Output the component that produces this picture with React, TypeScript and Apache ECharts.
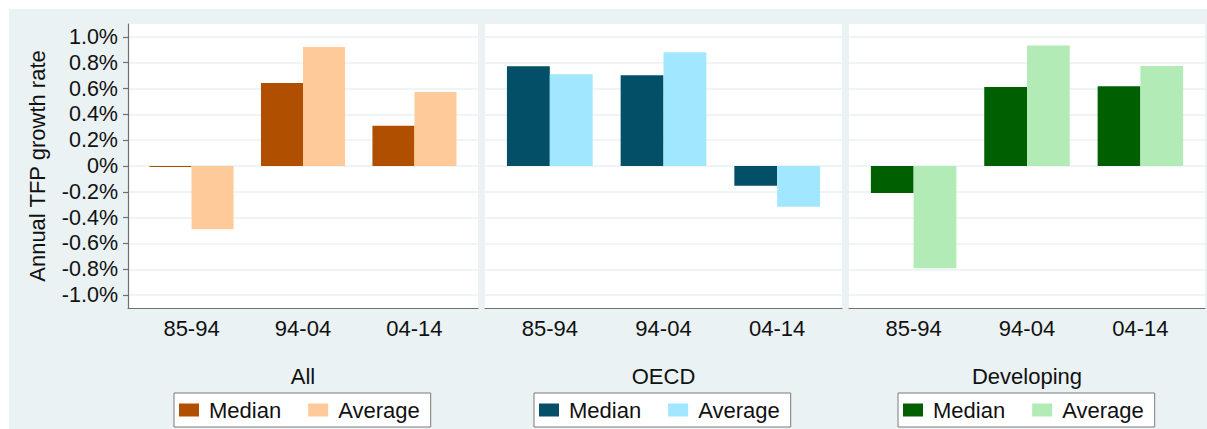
import React, { useEffect, useRef } from "react";
import * as echarts from "echarts";

const CATEGORIES = ["85-94", "94-04", "04-14"];
const PANELS = ["All", "OECD", "Developing"];
const ALL_MEDIAN = [-0.008, 0.643, 0.312];
const ALL_AVERAGE = [-0.49, 0.922, 0.574];
const OECD_MEDIAN = [0.773, 0.703, -0.153];
const OECD_AVERAGE = [0.711, 0.881, -0.315];
const DEV_MEDIAN = [-0.209, 0.612, 0.618];
const DEV_AVERAGE = [-0.793, 0.933, 0.775];
const Y_TICKS = [-1.0, -0.8, -0.6, -0.4, -0.2, 0, 0.2, 0.4, 0.6, 0.8, 1.0];
const Y_NAME = "Annual TFP growth rate";

const FONT = "'Liberation Sans', Arial, sans-serif";
const BG = "#EAF2F3";
const AXIS = "#707070";

const MEDIANS = [ALL_MEDIAN, OECD_MEDIAN, DEV_MEDIAN];
const AVERAGES = [ALL_AVERAGE, OECD_AVERAGE, DEV_AVERAGE];
const MEDIAN_COLORS = ["#B04F00", "#034F67", "#005F00"];
const AVERAGE_COLORS = ["#FFCA99", "#A0E7FF", "#B2EBB6"];

const GRID_LEFT = [128, 485, 849];
const GRID_WIDTH = [350, 357, 356];
const LEGEND_LEFT = [174, 534, 898];

export default function App() {
  const ref = useRef<HTMLDivElement>(null);
  useEffect(() => {
    document.body.style.margin = "0";
    const chart = echarts.init(ref.current!, null, { renderer: "svg" });
    const grids: any[] = [];
    const xAxes: any[] = [];
    const yAxes: any[] = [];
    const series: any[] = [];
    const legends: any[] = [];
    PANELS.forEach((panel, p) => {
      grids.push({
        left: GRID_LEFT[p],
        width: GRID_WIDTH[p],
        top: 24,
        height: 284,
        show: true,
        backgroundColor: "#ffffff",
        borderWidth: 0,
      });
      xAxes.push({
        type: "value",
        gridIndex: p,
        min: -0.57,
        max: 2.57,
        name: panel,
        nameLocation: "middle",
        nameGap: 57,
        nameTextStyle: { fontSize: 22, fontFamily: FONT, color: "#111" },
        axisLine: { show: true, onZero: false, lineStyle: { color: AXIS, width: 1.2 } },
        axisTick: { show: false, customValues: [0, 1, 2] },
        splitLine: { show: false },
        axisLabel: {
          customValues: [0, 1, 2],
          formatter: (v: number) => CATEGORIES[Math.round(v)] ?? "",
          fontSize: 22,
          fontFamily: FONT,
          color: "#111",
          margin: 9,
        },
      });
      yAxes.push({
        type: "value",
        gridIndex: p,
        min: -1.1,
        max: 1.1,
        name: p === 0 ? Y_NAME : "",
        nameLocation: "middle",
        nameGap: 80,
        nameTextStyle: { fontSize: 22, fontFamily: FONT, color: "#111" },
        axisLine: { show: p === 0, onZero: false, lineStyle: { color: AXIS, width: 1.2 } },
        axisTick: {
          show: p === 0,
          customValues: Y_TICKS,
          length: 5,
          lineStyle: { color: AXIS, width: 1.2 },
        },
        splitLine: { show: true, lineStyle: { color: BG, width: 1.5 } },
        axisLabel: {
          show: p === 0,
          customValues: Y_TICKS,
          formatter: (v: number) => (Math.abs(v) < 1e-9 ? "0%" : v.toFixed(1) + "%"),
          fontSize: 21.5,
          fontFamily: FONT,
          color: "#111",
          margin: 10,
        },
      });
      series.push({
        type: "bar",
        name: "Median",
        xAxisIndex: p,
        yAxisIndex: p,
        barWidth: "37.7%",
        barGap: "0%",
        itemStyle: { color: MEDIAN_COLORS[p] },
        data: MEDIANS[p].map((v, i) => [i, v]),
      });
      series.push({
        type: "bar",
        name: "Average",
        xAxisIndex: p,
        yAxisIndex: p,
        barWidth: "37.7%",
        barGap: "0%",
        itemStyle: { color: AVERAGE_COLORS[p] },
        data: AVERAGES[p].map((v, i) => [i, v]),
      });
      legends.push({
        left: LEGEND_LEFT[p],
        top: 393,
        orient: "horizontal",
        icon: "rect",
        itemWidth: 20,
        itemHeight: 13,
        itemGap: 27,
        selectedMode: false,
        backgroundColor: "#ffffff",
        borderColor: "#7a7a7a",
        borderWidth: 1,
        borderRadius: 0,
        padding: [6, 11, 6, 5],
        textStyle: { fontSize: 22, fontFamily: FONT, color: "#111", padding: [0, 0, 0, 5] },
        data: [
          { name: "Median", itemStyle: { color: MEDIAN_COLORS[p] } },
          { name: "Average", itemStyle: { color: AVERAGE_COLORS[p] } },
        ],
      });
    });
    chart.setOption({
      animation: false,
      backgroundColor: "#ffffff",
      graphic: [
        {
          type: "rect",
          left: 9,
          top: 9,
          z: -10,
          silent: true,
          shape: { width: 1198, height: 420 },
          style: { fill: BG },
        },
      ],
      grid: grids,
      xAxis: xAxes,
      yAxis: yAxes,
      legend: legends,
      series,
    });
    return () => chart.dispose();
  }, []);
  return <div ref={ref} style={{ width: 1207, height: 429 }} />;
}
